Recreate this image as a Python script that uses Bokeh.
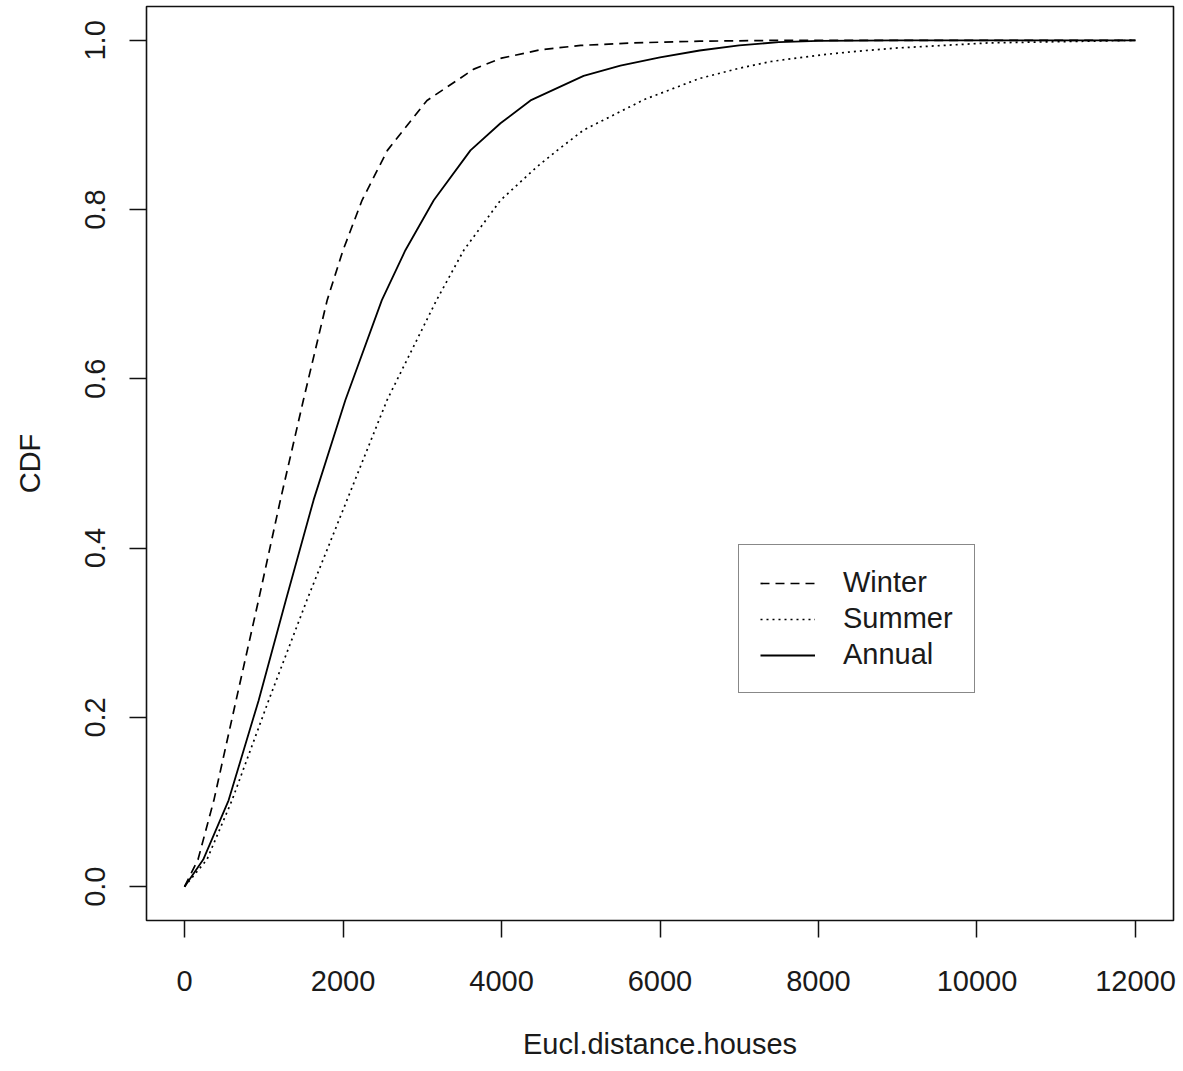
from bokeh.plotting import figure
from bokeh.models import Range1d, FixedTicker, Legend, LegendItem
from bokeh.embed import file_html
from bokeh.resources import INLINE

# ---- data ----
winter_x = [0, 170, 370, 650, 935, 1210, 1500, 1800, 2000, 2240, 2560, 3060, 3650, 4000, 4500, 5000, 5670, 6500, 7520, 9000, 12000]
winter_y = [0, 0.032, 0.102, 0.220, 0.339, 0.457, 0.575, 0.693, 0.752, 0.811, 0.870, 0.929, 0.966, 0.979, 0.989, 0.994, 0.997, 0.999, 1.0, 1.0, 1.0]

summer_x = [0, 283, 599, 1061, 1546, 2051, 2556, 3180, 3524, 3987, 4440, 4703, 5036, 5800, 6500, 7000, 7400, 7800, 8200, 8600, 9000, 10150, 12000]
summer_y = [0, 0.032, 0.102, 0.220, 0.339, 0.457, 0.575, 0.693, 0.752, 0.811, 0.850, 0.870, 0.894, 0.930, 0.955, 0.967, 0.975, 0.980, 0.9845, 0.988, 0.991, 0.997, 1.0]

annual_x = [0, 236, 556, 935, 1280, 1629, 2030, 2490, 2787, 3145, 3608, 3987, 4366, 5036, 5500, 6000, 6500, 7000, 7500, 8000, 9000, 12000]
annual_y = [0, 0.032, 0.102, 0.220, 0.339, 0.457, 0.575, 0.693, 0.752, 0.811, 0.870, 0.902, 0.929, 0.958, 0.970, 0.980, 0.988, 0.994, 0.998, 0.9995, 1.0, 1.0]

x_ticks = [0, 2000, 4000, 6000, 8000, 10000, 12000]
y_ticks = [0.0, 0.2, 0.4, 0.6, 0.8, 1.0]
y_tick_labels = ["0.0", "0.2", "0.4", "0.6", "0.8", "1.0"]

FONT = "Liberation Sans"
FS = "29px"

p = figure(
    frame_width=1027, frame_height=914,
    min_border_left=146, min_border_right=8, min_border_top=6, min_border_bottom=140,
    x_range=Range1d(-480, 12480), y_range=Range1d(-0.04, 1.04),
    output_backend="svg", toolbar_location=None,
    x_axis_label="Eucl.distance.houses", y_axis_label="CDF",
)
p.background_fill_color = "white"
p.border_fill_color = "white"
p.outline_line_color = "#111111"
p.outline_line_width = 1.6
p.xgrid.visible = False
p.ygrid.visible = False

for ax in (p.xaxis[0], p.yaxis[0]):
    ax.axis_line_color = None
    ax.major_tick_out = 17
    ax.major_tick_in = 0
    ax.major_tick_line_width = 1.5
    ax.major_tick_line_color = "#111111"
    ax.minor_tick_line_color = None
    ax.major_label_text_font = FONT
    ax.major_label_text_font_size = FS
    ax.major_label_text_color = "#1a1a1a"
    ax.axis_label_text_font = FONT
    ax.axis_label_text_font_size = FS
    ax.axis_label_text_font_style = "normal"
    ax.axis_label_text_color = "#1a1a1a"

p.xaxis[0].ticker = FixedTicker(ticks=x_ticks)
p.yaxis[0].ticker = FixedTicker(ticks=y_ticks)
p.yaxis[0].major_label_overrides = {t: s for t, s in zip(y_ticks, y_tick_labels)}
p.yaxis[0].major_label_orientation = "vertical"
p.xaxis[0].major_label_standoff = 33
p.xaxis[0].axis_label_standoff = 34
p.yaxis[0].major_label_standoff = 24
p.yaxis[0].axis_label_standoff = 37

rw = p.line(winter_x, winter_y, line_color="black", line_width=1.7, line_dash="9 6")
rs = p.line(summer_x, summer_y, line_color="black", line_width=1.7, line_dash="2 4")
ra = p.line(annual_x, annual_y, line_color="black", line_width=1.8)

legend = Legend(
    items=[LegendItem(label="Winter", renderers=[rw]),
           LegendItem(label="Summer", renderers=[rs]),
           LegendItem(label="Annual", renderers=[ra])],
    location=(592, 227),
    label_text_font=FONT, label_text_font_size="29px", label_text_color="#1a1a1a",
    glyph_width=55, glyph_height=30, label_height=30, label_standoff=28,
    spacing=3, padding=21, margin=0,
    border_line_color="#111111", border_line_width=1.6,
    background_fill_color="white", background_fill_alpha=1.0,
)
p.add_layout(legend, "center")

open("out.html", "w").write(file_html(p, INLINE))
